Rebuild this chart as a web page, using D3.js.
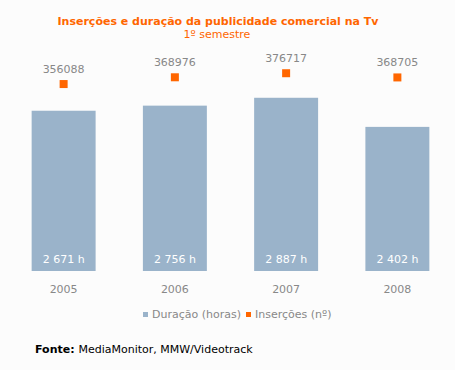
<!DOCTYPE html>
<head>
<meta charset='utf-8'>
<title>Inserções e duração</title>
<script src='https://d3js.org/d3.v7.min.js'></script>
<style>
    html, body {
        margin: 0px;
        padding: 0px;
        background-color: #fcfcfc;
    }
    svg text {
        font-family: 'DejaVu Sans', sans-serif;
    }
</style>
</head>
<body>
<div id='chart'></div>
<script>
    // data
    var years = ['2005', '2006', '2007', '2008'];
    var duracao = [2671, 2756, 2887, 2402];
    var insercoes = [356088, 368976, 376717, 368705];
    var duracaoLabels = ['2 671 h', '2 756 h', '2 887 h', '2 402 h'];

    var width = 455, height = 370;
    var orange = '#ff6600', blue = '#9ab3ca', grey = '#888888';

    var svg = d3.select('#chart').append('svg')
        .attr('width', width)
        .attr('height', height);

    svg.append('rect').attr('width', width).attr('height', height).attr('fill', '#fcfcfc');

    var x = d3.scaleBand()
        .domain(years)
        .range([8, 453])
        .paddingInner(0.425)
        .paddingOuter(0.2125);

    var yHours = d3.scaleLinear().domain([0, 4000]).range([271, 31]);
    var yIns = d3.scaleLinear().domain([0, 400000]).range([271, 61]);

    // title
    svg.append('text')
        .attr('x', 218).attr('y', 25)
        .attr('text-anchor', 'middle')
        .attr('fill', orange)
        .style('font-weight', 'bold')
        .style('font-size', '11px')
        .text('Inserções e duração da publicidade comercial na Tv');
    svg.append('text')
        .attr('x', 217).attr('y', 38)
        .attr('text-anchor', 'middle')
        .attr('fill', orange)
        .style('font-size', '11px')
        .text('1º semestre');

    // bars
    svg.selectAll('.bar')
        .data(years)
        .enter().append('rect')
        .attr('class', 'bar')
        .attr('x', function(d) { return x(d); })
        .attr('y', function(d, i) { return yHours(duracao[i]); })
        .attr('width', x.bandwidth())
        .attr('height', function(d, i) { return yHours(0) - yHours(duracao[i]); })
        .attr('fill', blue);

    svg.selectAll('.barlabel')
        .data(years)
        .enter().append('text')
        .attr('class', 'barlabel')
        .attr('x', function(d) { return x(d) + x.bandwidth() / 2; })
        .attr('y', 263)
        .attr('text-anchor', 'middle')
        .attr('fill', 'white')
        .style('font-size', '11px')
        .text(function(d, i) { return duracaoLabels[i]; });

    // insertions markers
    svg.selectAll('.mark')
        .data(years)
        .enter().append('rect')
        .attr('class', 'mark')
        .attr('x', function(d) { return x(d) + x.bandwidth() / 2 - 4; })
        .attr('y', function(d, i) { return yIns(insercoes[i]) - 4; })
        .attr('width', 8).attr('height', 8)
        .attr('fill', orange);

    svg.selectAll('.marklabel')
        .data(years)
        .enter().append('text')
        .attr('class', 'marklabel')
        .attr('x', function(d) { return x(d) + x.bandwidth() / 2; })
        .attr('y', function(d, i) { return yIns(insercoes[i]) - 11; })
        .attr('text-anchor', 'middle')
        .attr('fill', grey)
        .style('font-size', '11px')
        .text(function(d, i) { return insercoes[i]; });

    // x axis labels
    var xAxis = d3.axisBottom(x).tickSize(0).tickPadding(0);
    var gx = svg.append('g').attr('transform', 'translate(0,285)').call(xAxis);
    gx.select('.domain').remove();
    gx.selectAll('text')
        .attr('fill', grey)
        .style('font-size', '11px')
        .style('font-family', "'DejaVu Sans', sans-serif");

    // legend
    var legend = [
        {label: 'Duração (horas)', color: blue, x: 143},
        {label: 'Inserções (nº)', color: orange, x: 246}
    ];
    var lg = svg.selectAll('.legend')
        .data(legend)
        .enter().append('g')
        .attr('class', 'legend')
        .attr('transform', function(d) { return 'translate(' + d.x + ',312)'; });
    lg.append('rect').attr('width', 5).attr('height', 5).attr('fill', function(d) { return d.color; });
    lg.append('text')
        .attr('x', 9).attr('y', 6)
        .attr('fill', grey)
        .style('font-size', '11px')
        .text(function(d) { return d.label; });

    // source
    var src = svg.append('text')
        .attr('x', 35).attr('y', 353)
        .attr('fill', '#000')
        .style('font-size', '11px');
    src.append('tspan').style('font-weight', 'bold').text('Fonte: ');
    src.append('tspan').text('MediaMonitor, MMW/Videotrack');
</script>
</body>
